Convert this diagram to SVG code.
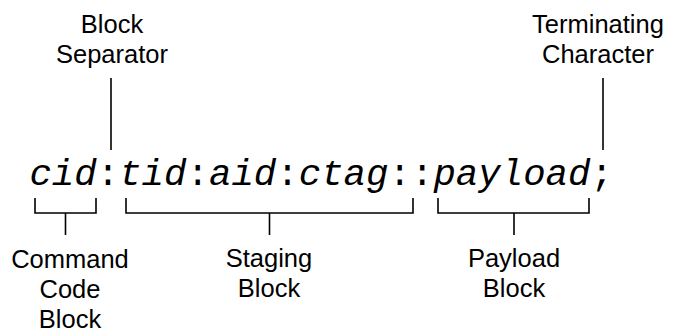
<svg xmlns="http://www.w3.org/2000/svg" width="673" height="333" viewBox="0 0 673 333">
<style>
.lbl{font-family:"Liberation Sans",Arial,sans-serif;font-size:25.5px;fill:#000;text-anchor:middle}
.code{font-family:"Liberation Mono","Courier New",monospace;font-size:37.4px;fill:#000}
.it{font-style:italic}
.ln{stroke:#000;stroke-width:1.6;fill:none}
</style>
<rect width="673" height="333" fill="#fff"/>
<g id="code">
<text class="code" x="29.4" y="185" xml:space="preserve"><tspan class="it">cid</tspan>:<tspan class="it">tid</tspan>:<tspan class="it">aid</tspan>:<tspan class="it">ctag</tspan>::<tspan class="it">payload</tspan>;</text>
</g>
<g id="block-separator">
<text class="lbl" x="112" y="33">Block</text>
<text class="lbl" x="112" y="63">Separator</text>
</g>
<g id="terminating-character">
<text class="lbl" x="598" y="33">Terminating</text>
<text class="lbl" x="598" y="63">Character</text>
</g>
<g id="command-code-block">
<text class="lbl" x="70" y="268">Command</text>
<text class="lbl" x="70" y="298">Code</text>
<text class="lbl" x="70" y="328">Block</text>
</g>
<g id="staging-block">
<text class="lbl" x="269" y="267">Staging</text>
<text class="lbl" x="269" y="297">Block</text>
</g>
<g id="payload-block">
<text class="lbl" x="514" y="267">Payload</text>
<text class="lbl" x="514" y="297">Block</text>
</g>
<g id="connectors">
<line class="ln" x1="111" y1="78" x2="111" y2="150"/>
<line class="ln" x1="603" y1="78" x2="603" y2="150"/>
<path class="ln" d="M35,198 V213 H96 V198 M65.5,213 V235"/>
<path class="ln" d="M126,198 V213 H413 V198 M269.5,213 V235"/>
<path class="ln" d="M438,198 V213 H589 V198 M514,213 V235"/>
</g>
</svg>
